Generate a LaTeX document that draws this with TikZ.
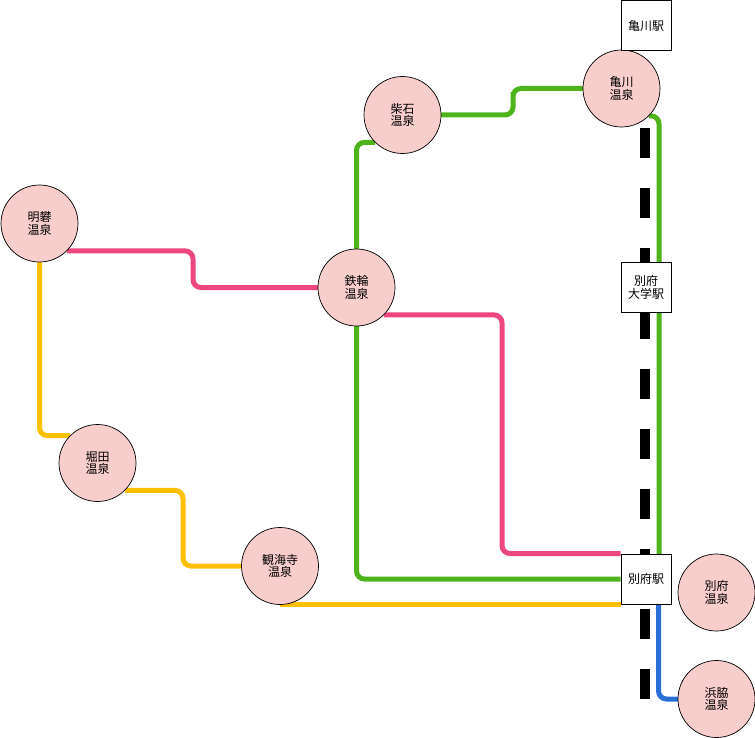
\documentclass[tikz,border=0pt]{standalone}
\usepackage{fontspec}
\setmainfont{Noto Sans CJK JP}
\definecolor{onsenfill}{HTML}{F8CECC}
\definecolor{linepink}{HTML}{EE4680}
\definecolor{linegreen}{HTML}{4FB41C}
\definecolor{lineyellow}{HTML}{FFC000}
\definecolor{lineblue}{HTML}{2A6FD6}
\tikzset{
  onsen/.style={circle,draw=black,line width=0.7pt,fill=onsenfill,minimum size=77pt,inner sep=0pt,align=center,font=\fontsize{12}{12.5}\selectfont},
  anchorring/.style={circle,minimum size=77pt,inner sep=0pt},
  station/.style={rectangle,draw=black,line width=1pt,fill=white,minimum size=50pt,inner sep=0pt,align=center,font=\fontsize{12}{12.5}\selectfont},
  route/.style={line width=5pt,rounded corners=8pt},
  railway/.style={line width=10pt,black,dash pattern=on 30pt off 30pt}
}
\begin{document}
\begin{tikzpicture}[x=1pt,y=-1pt]
\useasboundingbox (0,0) rectangle (755,738);
\coordinate (railtop) at (645,128.5);
\coordinate (railend) at (645,698.5);
\draw[railway] (railtop) -- (railend);
% anchors for the routes, which run beneath the circles and station boxes
\node[anchorring] (myo) at (39.5,223.5) {};
\node[anchorring] (kan) at (356.5,287.5) {};
\node[anchorring] (sib) at (402.5,115) {};
\node[anchorring] (kam) at (621.5,88.5) {};
\node[anchorring] (hor) at (97.5,463) {};
\node[anchorring] (kai) at (280,566) {};
\node[anchorring] (hama) at (716.5,699) {};
\node[station,draw=none,fill=none] (sbep) at (646,579) {};
\draw[route,linepink] (myo.-45) -| (193,270) |- (kan.west);
\draw[route,linepink] (kan.-45) -| (502,450) |- (sbep.north west);
\draw[route,lineyellow] (myo.south) |- (hor.135);
\draw[route,lineyellow] (hor.-45) -| (183,530) |- (kai.west);
\draw[route,lineyellow] (kai.south) -- (kai.south -| sbep.west);
\draw[route,linegreen] (kan.north) |- (sib.-135);
\draw[route,linegreen] (kan.south) |- (sbep.west);
\draw[route,linegreen] (sib.east) -| (513,100) |- (kam.west);
\draw[route,linegreen] (kam.-45) -| (659,554);
\draw[route,lineblue] (658.5,604) |- (hama.west);
% circles
\node[onsen] at (myo) {明礬\\温泉};
\node[onsen] at (kan) {鉄輪\\温泉};
\node[onsen] at (sib) {柴石\\温泉};
\node[onsen] at (kam) {亀川\\温泉};
\node[onsen] at (hor) {堀田\\温泉};
\node[onsen] at (kai) {観海寺\\温泉};
\node[onsen] (bep) at (716.5,592.5) {別府\\温泉};
\node[onsen] at (hama) {浜脇\\温泉};
% stations
\node[station] (skame) at (646,25.5) {亀川駅};
\node[station] (suni) at (646,287.5) {別府\\大学駅};
\node[station] at (sbep) {別府駅};
\end{tikzpicture}
\end{document}
